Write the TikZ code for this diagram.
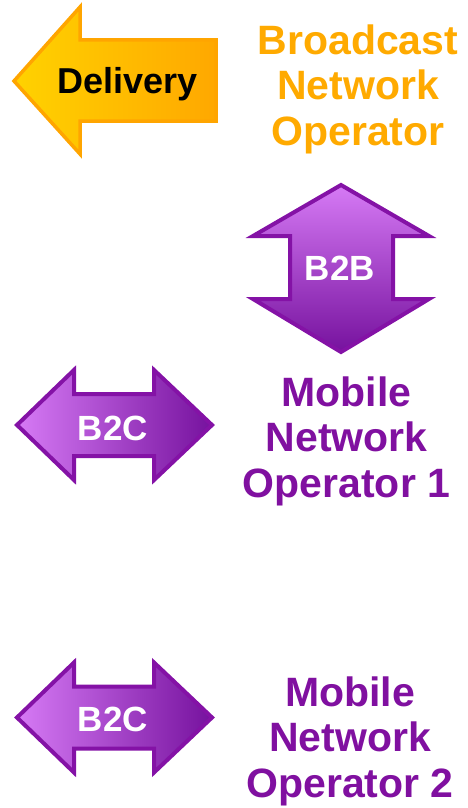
\documentclass[tikz,border=0pt]{standalone}
\usepackage{fontspec}
\setmainfont{Liberation Sans}
\definecolor{orTxt}{RGB}{255,170,0}
\definecolor{orLight}{RGB}{255,210,0}
\definecolor{orDark}{RGB}{255,168,0}
\definecolor{orLine}{RGB}{255,165,0}
\definecolor{puTxt}{RGB}{128,16,160}
\definecolor{puLight}{RGB}{214,122,245}
\definecolor{puDark}{RGB}{118,18,158}
\definecolor{puLine}{RGB}{132,18,166}
\tikzset{
  arrowshape/.style={line width=4pt, line join=miter},
  delarrow/.style={arrowshape, line width=3.5pt, draw=orLine, left color=orLight, right color=orDark},
  hparrow/.style={arrowshape, draw=puLine, left color=puLight, right color=puDark},
  vparrow/.style={arrowshape, draw=puLine, top color=puLight, bottom color=puDark},
  bigtxt/.style={font=\fontsize{41}{45.5}\selectfont\bfseries, align=center, inner sep=0pt, anchor=base},
  arrtxt/.style={font=\fontsize{35}{40}\selectfont\bfseries, text=white, inner sep=0pt, anchor=base},
}
\begin{document}
\begin{tikzpicture}[x=1pt,y=-1pt]
\useasboundingbox (0,0) rectangle (468,808);
% Delivery arrow
\draw[delarrow] (14,81) -- (80,7) -- (80,40) -- (216,40) -- (216,121) -- (80,121) -- (80,154) -- cycle;
\node[arrtxt, text=black, font=\fontsize{36}{40}\selectfont\bfseries] (delivery) at (127.5,93) {Delivery};
% base anchor of a multi-line node = baseline of its last line
\node[bigtxt, text=orTxt] (bno) at (358,145) {Broadcast\\Network\\Operator};
% B2B arrow
\draw[vparrow] (341,185) -- (429,236) -- (393,236) -- (393,299) -- (429,299) -- (341,352) -- (253,299) -- (290,299) -- (290,236) -- (253,236) -- cycle;
\node[arrtxt] (b2b) at (340,280) {B2B};
% B2C arrow 1
\draw[hparrow] (17,425) -- (74,370) -- (74,394) -- (154,394) -- (154,370) -- (212,425) -- (154,480) -- (154,456) -- (74,456) -- (74,480) -- cycle;
\node[arrtxt] (b2c1) at (113,440) {B2C};
\node[bigtxt, text=puTxt] (mno1) at (346.5,497) {Mobile\\Network\\Operator 1};
% B2C arrow 2
\draw[hparrow] (17,717.5) -- (74,662.5) -- (74,686.5) -- (154,686.5) -- (154,662.5) -- (212,717.5) -- (154,772.5) -- (154,748.5) -- (74,748.5) -- (74,772.5) -- cycle;
\node[arrtxt] (b2c2) at (113,731.5) {B2C};
\node[bigtxt, text=puTxt] (mno2) at (350,797) {Mobile\\Network\\Operator 2};
\end{tikzpicture}
\end{document}
